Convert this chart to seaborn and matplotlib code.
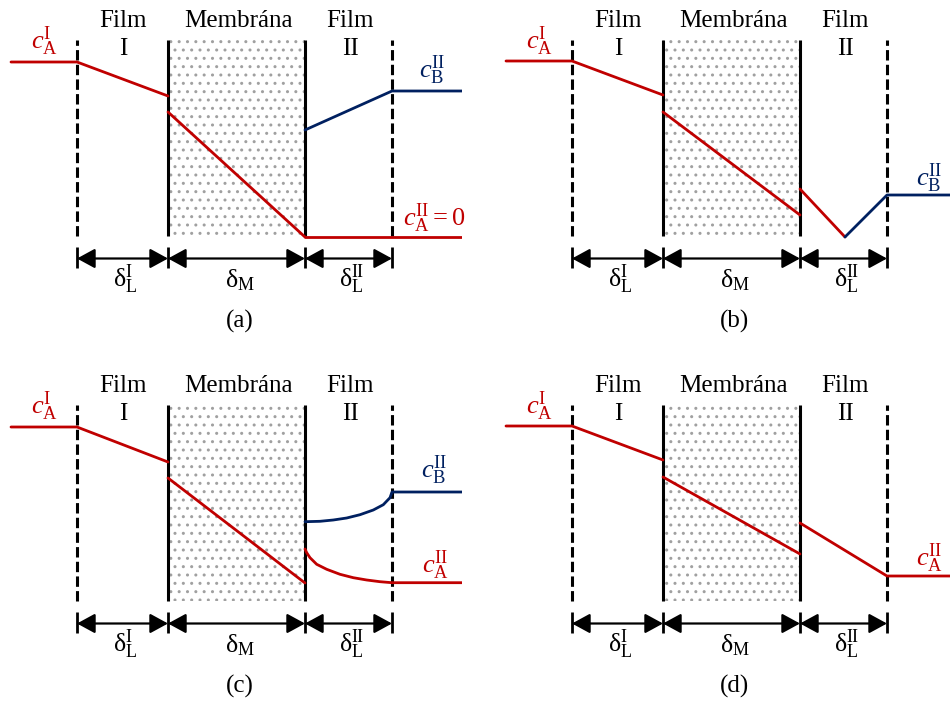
import matplotlib
matplotlib.use("Agg")
import matplotlib.pyplot as plt
import seaborn as sns

sns.set_theme(style="white")
plt.rcParams["font.family"] = ["Liberation Serif", "DejaVu Serif"]
plt.rcParams["text.color"] = "black"
plt.rcParams["mathtext.fontset"] = "custom"
plt.rcParams["mathtext.rm"] = "Liberation Serif"
plt.rcParams["mathtext.it"] = "Liberation Serif:italic"
plt.rcParams["mathtext.bf"] = "Liberation Serif:bold"
plt.rcParams["hatch.linewidth"] = 1.0

RED = "#C00000"
BLUE = "#002060"

# Layer boundaries along the transport coordinate
x_bulk_feed = 11
x_film_I = 77
x_membrane_in = 168
x_membrane_out = 305
x_film_II = 392
x_bulk_perm = 462

feed_x = [x_bulk_feed, x_film_I, x_membrane_in]
membrane_x = [x_membrane_in, x_membrane_out]
perm_x = [x_membrane_out, x_film_II, x_bulk_perm]

# (a) instantaneous reaction at the membrane surface
a_cA_feed = [175, 175, 141]
a_cA_membrane = [125, 0]
a_cA_perm = [0, 0, 0]
a_cB_perm = [107, 146, 146]

# (b) instantaneous reaction inside film II
b_cA_feed = [176, 176, 142]
b_cA_membrane = [125, 22]
b_reaction_x = 350
b_cA_perm = [48, 0]
b_cB_perm = [0, 42, 42]

# (c) fast reaction in film II (curved profiles)
c_cA_feed = [175, 175, 140]
c_cA_membrane = [124, 19]
c_cA_perm_x = [305, 306.7, 310, 316.7, 326.7, 340, 353.3, 366.7, 380, 392, 462]
c_cA_perm = [53, 49.3, 44.3, 37.7, 32.7, 27.7, 24.3, 22, 20.3, 19.3, 19.3]
c_cB_perm_x = [305, 320, 333.3, 346.7, 360, 373.3, 383.3, 390, 392, 462]
c_cB_perm = [80.3, 80.7, 82, 84, 87.3, 92, 97.3, 104.3, 110, 110]

# (d) no reaction
d_cA_feed = [176, 176, 142]
d_cA_membrane = [125, 48]
d_cA_perm = [79, 26, 26]

panel_tags = ["(a)", "(b)", "(c)", "(d)"]
layer_top = ["Film", "Membrána", "Film"]
layer_sub = ["I", "", "II"]
thickness_labels = [r"$\mathrm{δ}_{\mathrm{L}}^{\mathrm{I}}$",
                    r"$\mathrm{δ}_{\mathrm{M}}$",
                    r"$\mathrm{δ}_{\mathrm{L}}^{\mathrm{II}}$"]

W, H = 950, 704
PW, PH = 462, 339
origins = [(0, 0), (495, 0), (0, 365), (495, 365)]

fig = plt.figure(figsize=(W / 100, H / 100), dpi=100)


def profile(ax, x, c, color):
    sns.lineplot(x=x, y=c, ax=ax, color=color, lw=2.0, sort=False,
                 estimator=None, legend=False, zorder=4)


def frame(ax, tag):
    ax.set_xlim(0, PW)
    ax.set_ylim(237 - PH, 237)
    ax.axis("off")
    # porous membrane
    ax.fill_between(membrane_x, 1, 197, facecolor="white", edgecolor="#a0a0a0",
                    hatch="..", lw=0, zorder=1)
    ax.vlines(membrane_x, 1, 197, color="black", lw=2.2, zorder=3)
    ax.vlines([x_film_I, x_film_II], 1, 197, color="black", lw=2.2,
              linestyles=[(0, (3.4, 1.4))], zorder=3)
    # thickness arrows
    edges = [x_film_I, x_membrane_in, x_membrane_out, x_film_II]
    ax.vlines(edges, -31, -10, color="black", lw=2.0)
    for i in range(3):
        ax.annotate("", xy=(edges[i + 1], -21.5), xytext=(edges[i], -21.5),
                    arrowprops=dict(arrowstyle="<|-|>,head_length=0.55,head_width=0.3",
                                    mutation_scale=20, lw=1.6, color="black",
                                    shrinkA=0, shrinkB=0))
        ax.text((edges[i] + edges[i + 1]) / 2 + 3, -50, thickness_labels[i],
                ha="center", va="baseline", fontsize=18.5)
    centers = [123, 238, 350]
    for xc, top, sub in zip(centers, layer_top, layer_sub):
        ax.text(xc, 210, top, ha="center", va="baseline", fontsize=18)
        if sub:
            ax.text(xc, 182, sub, ha="center", va="baseline", fontsize=18)
    ax.text(240, -91, tag, ha="center", va="baseline", fontsize=18)
    ax.text(44, 196, r"$c_{\mathrm{A}}^{\mathrm{I}}$", ha="center", va="center",
            fontsize=19, color=RED)


axes = []
for (x0, y0), tag in zip(origins, panel_tags):
    ax = fig.add_axes([x0 / W, 1 - (y0 + PH) / H, PW / W, PH / H])
    frame(ax, tag)
    axes.append(ax)

ax_a, ax_b, ax_c, ax_d = axes

# (a)
profile(ax_a, feed_x, a_cA_feed, RED)
profile(ax_a, membrane_x, a_cA_membrane, RED)
profile(ax_a, perm_x, a_cA_perm, RED)
profile(ax_a, perm_x, a_cB_perm, BLUE)
ax_a.text(432, 167, r"$c_{\mathrm{B}}^{\mathrm{II}}$", ha="center", va="center",
          fontsize=19, color=BLUE)
ax_a.text(434, 19, r"$c_{\mathrm{A}}^{\mathrm{II}} = 0$", ha="center", va="center",
          fontsize=19, color=RED)

# (b)
profile(ax_b, feed_x, b_cA_feed, RED)
profile(ax_b, membrane_x, b_cA_membrane, RED)
profile(ax_b, [x_membrane_out, b_reaction_x], b_cA_perm, RED)
profile(ax_b, [b_reaction_x, x_film_II, x_bulk_perm], b_cB_perm, BLUE)
ax_b.text(434, 59, r"$c_{\mathrm{B}}^{\mathrm{II}}$", ha="center", va="center",
          fontsize=19, color=BLUE)

# (c)
profile(ax_c, feed_x, c_cA_feed, RED)
profile(ax_c, membrane_x, c_cA_membrane, RED)
profile(ax_c, c_cA_perm_x, c_cA_perm, RED)
profile(ax_c, c_cB_perm_x, c_cB_perm, BLUE)
ax_c.text(434, 132, r"$c_{\mathrm{B}}^{\mathrm{II}}$", ha="center", va="center",
          fontsize=19, color=BLUE)
ax_c.text(435, 37, r"$c_{\mathrm{A}}^{\mathrm{II}}$", ha="center", va="center",
          fontsize=19, color=RED)

# (d)
profile(ax_d, feed_x, d_cA_feed, RED)
profile(ax_d, membrane_x, d_cA_membrane, RED)
profile(ax_d, perm_x, d_cA_perm, RED)
ax_d.text(434, 44, r"$c_{\mathrm{A}}^{\mathrm{II}}$", ha="center", va="center",
          fontsize=19, color=RED)

fig.savefig("out.png", dpi=100)
